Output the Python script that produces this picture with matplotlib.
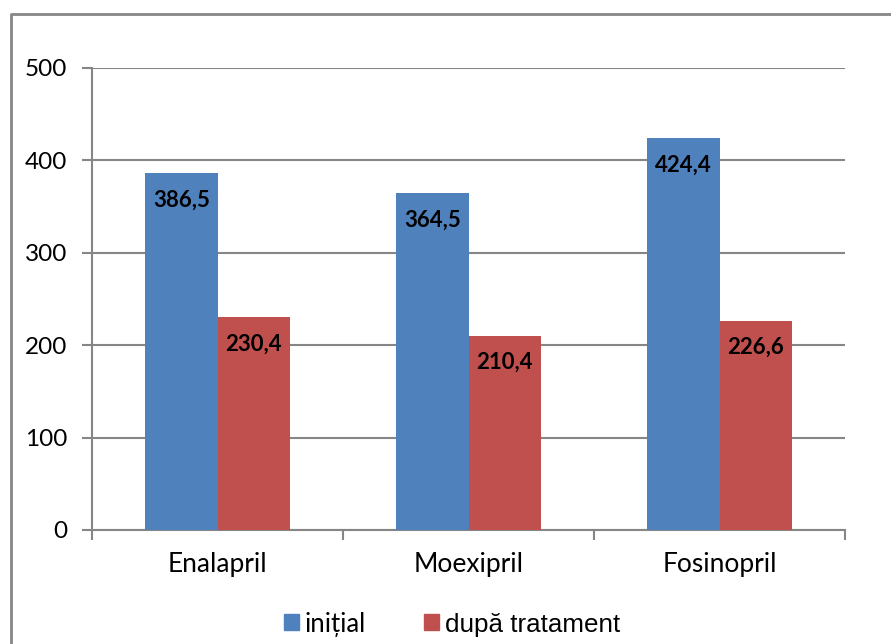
import matplotlib.pyplot as plt
from matplotlib.lines import Line2D
from matplotlib.patches import Patch
import numpy as np

plt.rcParams['font.family'] = ['Lato', 'DejaVu Sans']

# date
medicamente = ['Enalapril', 'Moexipril', 'Fosinopril']
initial = [386.5, 364.5, 424.4]
dupa_tratament = [230.4, 210.4, 226.6]
etichete_initial = ['386,5', '364,5', '424,4']
etichete_dupa = ['230,4', '210,4', '226,6']

albastru = '#4f81bd'
rosu = '#c0504d'
gri = '#868686'

fig = plt.figure(figsize=(8.91, 6.44), dpi=100)
ax = fig.add_axes([92 / 891, 1 - 530 / 644, 753 / 891, 462 / 644])

x = np.arange(len(medicamente))
w = 0.287
b1 = ax.bar(x - w / 2, initial, w, color=albastru, zorder=3)
b2 = ax.bar(x + w / 2, dupa_tratament, w, color=rosu, zorder=3)

for bars, labels in ((b1, etichete_initial), (b2, etichete_dupa)):
    for bar, lab in zip(bars, labels):
        ax.annotate(lab, (bar.get_x() + bar.get_width() / 2, bar.get_height()),
                    xytext=(0, -27), textcoords='offset pixels',
                    ha='center', va='center', fontsize=16, fontweight='bold',
                    color='black', zorder=4)

ax.set_xlim(-0.5, 2.5)
ax.set_ylim(0, 500)
ax.set_yticks(range(0, 501, 100))
ax.yaxis.grid(True, color=gri, linewidth=1.5, zorder=0)

ax.set_xticks(np.arange(-0.5, 2.6, 1))
ax.set_xticklabels([])
ax.set_xticks(x, minor=True)
ax.set_xticklabels(medicamente, minor=True, fontsize=19)
ax.tick_params(axis='x', which='minor', length=0, pad=16)
ax.tick_params(axis='x', which='major', length=7, width=1.5, color=gri)
ax.tick_params(axis='y', length=7, width=1.5, color=gri, labelsize=17.5, pad=11)

for s in ('top', 'right'):
    ax.spines[s].set_visible(False)
for s in ('left', 'bottom'):
    ax.spines[s].set_color(gri)
    ax.spines[s].set_linewidth(1.5)

handles = [Patch(color=albastru), Patch(color=rosu)]
leg = ax.legend(handles, ['inițial', 'după tratament'], ncol=2, frameon=False,
                loc='center', bbox_to_anchor=(0.478, -0.2035), handlelength=0.58,
                handleheight=0.58, handletextpad=0.23, columnspacing=2.25,
                fontsize=18.5, borderpad=0, borderaxespad=0)
leg.get_texts()[1].set_fontfamily(['Liberation Sans', 'DejaVu Sans'])
leg.get_texts()[1].set_fontsize(18.7)

# chenar exterior
fig.add_artist(Line2D([11 / 891, 11 / 891, 1.0], [0.0, 1 - 14 / 644, 1 - 14 / 644],
                      transform=fig.transFigure, color=gri, linewidth=2))

plt.savefig('out.png', dpi=100)
